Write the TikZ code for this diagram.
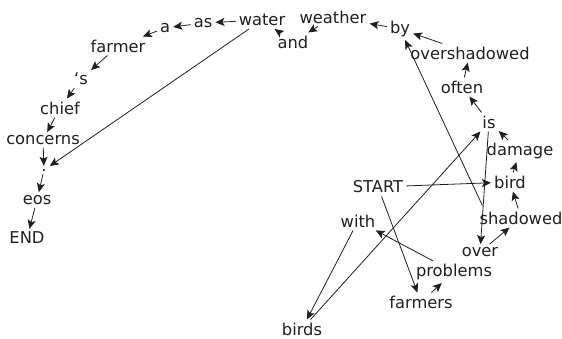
\documentclass[tikz,border=0pt]{standalone}
\usepackage{fontspec}
\setmainfont{DejaVu Sans}
\usetikzlibrary{arrows.meta}
\begin{document}
\begin{tikzpicture}[x=1pt,y=-1pt,
  w/.style={font=\fontsize{16.3}{18}\selectfont, inner sep=3pt, text=black!88},
  e/.style={-{Stealth[length=9pt,width=8pt,inset=2pt]}, line width=0.8pt, black!88}]
\useasboundingbox (0,0) rectangle (562,338);
\node[w] (water) at (262,20) {water};
\node[w] (as) at (203,23) {as};
\node[w] (a) at (165,28) {a};
\node[w] (farmer) at (118,46) {farmer};
\node[w] (s) at (81,79) {‘s};
\node[w] (chief) at (60,108) {chief};
\node[w] (concerns) at (43,140) {concerns};
\node[w] (dot) at (44,170) {.};
\node[w] (eos) at (37,200) {eos};
\node[w] (END) at (27,238) {END};
\node[w] (weather) at (333,17) {weather};
\node[w] (and) at (293,42) {and};
\node[w] (by) at (400,29) {by};
\node[w] (overshadowed) at (470,53) {overshadowed};
\node[w] (often) at (462,87) {often};
\node[w] (is) at (489,122) {is};
\node[w] (damage) at (520,151) {damage};
\node[w] (bird) at (510,182) {bird};
\node[w] (START) at (378,187) {START};
\node[w] (shadowed) at (521,218) {shadowed};
\node[w] (with) at (358,221) {with};
\node[w] (over) at (480,252) {over};
\node[w] (problems) at (454,272) {problems};
\node[w] (farmers) at (421,302) {farmers};
\node[w] (birds) at (302,329) {birds};
\draw[e] (water) -- (as);
\draw[e] (as) -- (a);
\draw[e] (a) -- (farmer);
\draw[e] (farmer) -- (s);
\draw[e] (s) -- (chief);
\draw[e] (chief) -- (concerns);
\draw[e] (concerns) -- (dot);
\draw[e] (dot) -- (eos);
\draw[e] (eos) -- (END);
\draw[e] (and) -- (water);
\draw[e] (weather) -- (and);
\draw[e] (by) -- (weather);
\draw[e] (overshadowed) -- (by);
\draw[e] (often) -- (overshadowed);
\draw[e] (is) -- (often);
\draw[e] (damage) -- (is);
\draw[e] (bird) -- (damage);
\draw[e] (shadowed) -- (bird);
\draw[e] (over) -- (shadowed);
\draw[e] (is) -- (over);
\draw[e] (START) -- (bird);
\draw[e] (START) -- (farmers);
\draw[e] (farmers) -- (problems);
\draw[e] (problems) -- (with);
\draw[e] (with) -- (birds);
\draw[e] (birds) -- (is);
\draw[e] ([shift={(6,-3)}]shadowed.north west) -- (by);
\draw[e] (water) -- (dot);
\end{tikzpicture}
\end{document}
